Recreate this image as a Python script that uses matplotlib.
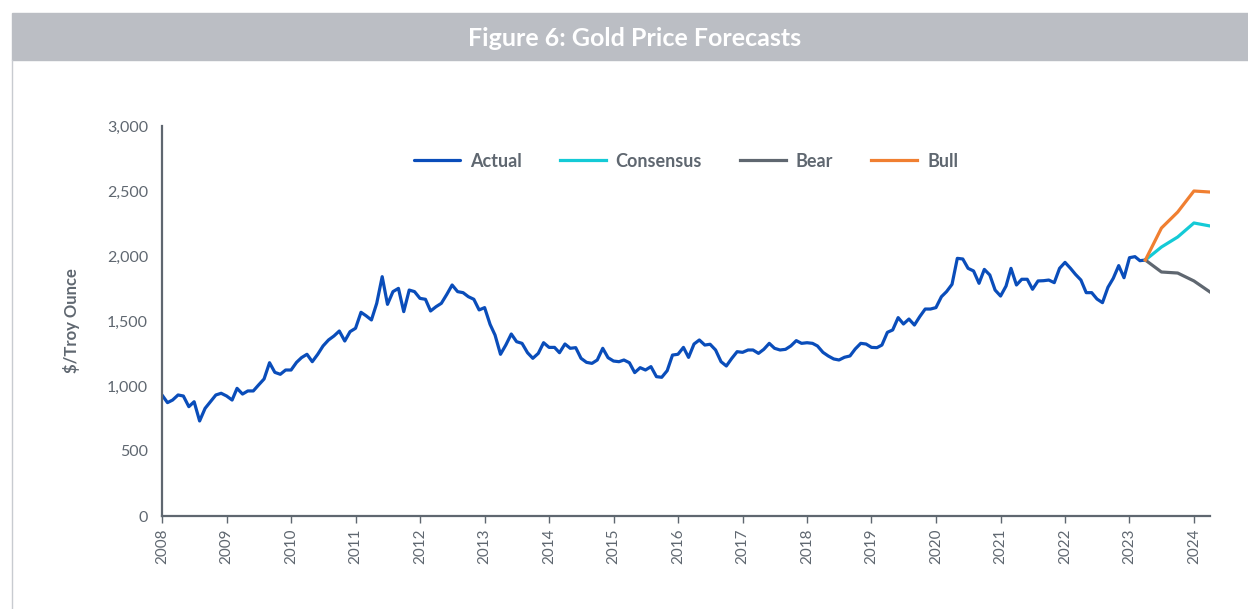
import numpy as np
import pandas as pd
import matplotlib
matplotlib.use("Agg")
import matplotlib.pyplot as plt
import matplotlib.dates as mdates
from matplotlib.patches import Rectangle
from matplotlib.lines import Line2D

# ============================================================
# Data (monthly gold price, $/troy ounce)
# ============================================================
actual_start = "2008-01-01"
actual = [
    931, 872, 892, 931, 923, 841, 879, 731, 828, 879, 931, 944,
    923, 892, 982, 938, 962, 962, 1008, 1054, 1179, 1105, 1090, 1123,
    1123, 1182, 1218, 1244, 1187, 1244, 1308, 1354, 1385, 1423, 1346, 1418,
    1444, 1567, 1541, 1508, 1636, 1841, 1628, 1726, 1751, 1572, 1738, 1726,
    1674, 1667, 1577, 1610, 1636, 1705, 1777, 1726, 1718, 1687, 1667, 1585,
    1603, 1474, 1392, 1244, 1315, 1400, 1341, 1328, 1256, 1213, 1251, 1333,
    1297, 1297, 1256, 1323, 1290, 1295, 1213, 1182, 1174, 1200, 1290, 1218,
    1192, 1187, 1200, 1179, 1103, 1141, 1123, 1149, 1072, 1067, 1118, 1238,
    1244, 1297, 1220, 1323, 1354, 1315, 1321, 1277, 1187, 1154, 1213, 1264,
    1259, 1277, 1277, 1251, 1282, 1328, 1290, 1277, 1282, 1308, 1349, 1328,
    1333, 1328, 1308, 1259, 1231, 1208, 1200, 1221, 1231, 1285, 1328, 1323,
    1297, 1295, 1315, 1413, 1431, 1526, 1477, 1515, 1469, 1533, 1592, 1592,
    1603, 1687, 1726, 1782, 1982, 1977, 1905, 1885, 1790, 1897, 1854, 1738,
    1692, 1769, 1905, 1777, 1821, 1821, 1744, 1808, 1810, 1815, 1795, 1905,
    1951, 1905, 1859, 1815, 1718, 1718, 1669, 1641, 1759, 1828, 1926, 1833,
    1987, 1995, 1964, 1969,
]

forecast_dates = ["2023-04-01", "2023-07-01", "2023-10-01", "2024-01-01", "2024-04-01"]
consensus = [1969, 2069, 2146, 2254, 2231]
bear = [1969, 1877, 1869, 1808, 1723]
bull = [1969, 2215, 2338, 2500, 2492]

year_ticks = list(range(2008, 2025))
y_ticks = [0, 500, 1000, 1500, 2000, 2500, 3000]

# colours
c_actual = "#0A4DBA"
c_cons = "#14CAD6"
c_bear = "#5F6770"
c_bull = "#F07F31"
c_text = "#5F6770"
c_band = "#BBBEC4"

plt.rcParams["font.family"] = ["Lato", "DejaVu Sans"]

actual_dates = pd.date_range(actual_start, periods=len(actual), freq="MS")
f_dates = pd.to_datetime(forecast_dates)

fig = plt.figure(figsize=(12.48, 6.09), dpi=100)

# title band and left frame line
fig.patches.append(Rectangle((12 / 1248, 1 - 60 / 609), 1, 47 / 609,
                             transform=fig.transFigure, color=c_band, zorder=0))
fig.add_artist(Line2D([12 / 1248, 12 / 1248], [0, 1 - 60 / 609],
                      transform=fig.transFigure, color="#C8CBD0", lw=1))
fig.text(635 / 1248, 1 - 38 / 609, "Figure 6: Gold Price Forecasts",
         ha="center", va="center", color="white", fontsize=18, fontweight="bold")

ax = fig.add_axes([162 / 1248, 1 - 516 / 609, (1210 - 162) / 1248, 390 / 609])

lw = 2.3
ax.plot(actual_dates, actual, color=c_actual, lw=lw, label="Actual", solid_capstyle="round")
ax.plot(f_dates, consensus, color=c_cons, lw=lw, label="Consensus")
ax.plot(f_dates, bear, color=c_bear, lw=lw, label="Bear")
ax.plot(f_dates, bull, color=c_bull, lw=lw, label="Bull")

ax.set_ylim(0, 3000)
ax.set_yticks(y_ticks)
ax.set_yticklabels([f"{v:,}" for v in y_ticks])
ax.set_xlim(pd.Timestamp(actual_start), f_dates[-1])
ax.set_xticks([pd.Timestamp(f"{y}-01-01") for y in year_ticks])
ax.xaxis.set_major_formatter(mdates.DateFormatter("%Y"))

for s in ["top", "right"]:
    ax.spines[s].set_visible(False)
for s in ["left", "bottom"]:
    ax.spines[s].set_color(c_bear)
    ax.spines[s].set_linewidth(1.6)

ax.tick_params(axis="y", length=0, pad=10, labelsize=11.5, labelcolor=c_text)
ax.tick_params(axis="x", length=5, width=1, color=c_bear, pad=4,
               labelsize=11, labelcolor=c_text, labelrotation=90)

ax.set_ylabel("$/Troy Ounce", fontsize=12, fontweight="bold", color=c_text, labelpad=19)

leg = ax.legend(loc="center", bbox_to_anchor=(0.5, 0.91), ncol=4, frameon=False,
                handlelength=2.55, columnspacing=2.1, handletextpad=0.55,
                prop={"size": 13, "weight": "bold"})
for t in leg.get_texts():
    t.set_color(c_text)

fig.savefig("out.png", dpi=100)
